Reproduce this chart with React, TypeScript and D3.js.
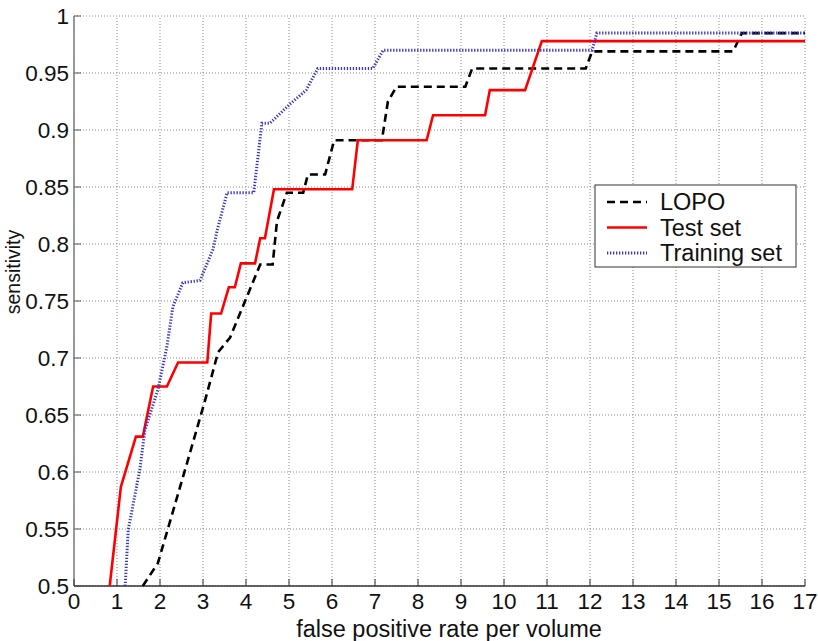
import React from 'react'
import * as d3 from 'd3'

// values
const lopoX = [1.6, 1.95, 2.63, 3.05, 3.35, 3.63, 4.33, 4.62, 4.72, 4.95, 5.33, 5.44, 5.84, 6.05, 7.16, 7.3, 7.5, 9.1, 9.26, 11.9, 12.05, 15.33, 15.53, 17]
const lopoY = [0.5, 0.52, 0.608, 0.663, 0.705, 0.718, 0.782, 0.782, 0.82, 0.845, 0.845, 0.861, 0.861, 0.891, 0.891, 0.925, 0.938, 0.938, 0.954, 0.954, 0.969, 0.969, 0.985, 0.985]

const testX = [0.83, 1.09, 1.44, 1.6, 1.84, 2.16, 2.42, 3.1, 3.19, 3.42, 3.6, 3.74, 3.88, 4.21, 4.33, 4.44, 4.65, 6.47, 6.6, 8.2, 8.35, 9.56, 9.67, 10.49, 10.88, 17]
const testY = [0.5, 0.587, 0.631, 0.631, 0.675, 0.675, 0.696, 0.696, 0.739, 0.739, 0.762, 0.762, 0.783, 0.783, 0.805, 0.805, 0.848, 0.848, 0.891, 0.891, 0.913, 0.913, 0.935, 0.935, 0.978, 0.978]

const trainX = [1.19, 1.26, 1.53, 1.65, 1.95, 2.16, 2.3, 2.53, 2.93, 3.23, 3.33, 3.56, 4.18, 4.37, 4.56, 5.0, 5.4, 5.67, 6.95, 7.19, 12.05, 12.16, 17]
const trainY = [0.5, 0.549, 0.602, 0.637, 0.672, 0.71, 0.745, 0.766, 0.768, 0.795, 0.812, 0.845, 0.845, 0.906, 0.906, 0.922, 0.935, 0.954, 0.954, 0.97, 0.97, 0.985, 0.985]

const xTicks = d3.range(0, 18)
const yTicks = [0.5, 0.55, 0.6, 0.65, 0.7, 0.75, 0.8, 0.85, 0.9, 0.95, 1]
const legendNames = ['LOPO', 'Test set', 'Training set']

const W = 818
const H = 641
const margin = {top: 16, right: 13, bottom: 55, left: 74}
const font = 'Liberation Sans, Arial, Helvetica, sans-serif'

const styles = [
  {stroke: '#000', width: 2.6, dash: '8 5'},
  {stroke: '#ff0000', width: 2.6, dash: null},
  {stroke: '#3535c8', width: 3, dash: '1.3 1.7'}
]

const toPoints = (xs: number[], ys: number[]) => xs.map((x, i) => [x, ys[i]] as [number, number])

export default function App () {
  const xScale = d3.scaleLinear().domain([0, 17]).range([margin.left, W - margin.right])
  const yScale = d3.scaleLinear().domain([0.5, 1]).range([H - margin.bottom, margin.top])
  const line = d3.line<[number, number]>()
    .x(d => xScale(d[0]))
    .y(d => yScale(d[1]))

  const series = [toPoints(lopoX, lopoY), toPoints(testX, testY), toPoints(trainX, trainY)]
  const x0 = xScale(0)
  const x1 = xScale(17)
  const y0 = yScale(0.5)
  const y1 = yScale(1)

  return (
    <svg width={W} height={H} style={{position: 'absolute', left: 0, top: 0, background: '#fff'}}
      fontFamily={font}>
      <rect x={0} y={0} width={W} height={H} fill='#fff' />
      {/* grid */}
      <g stroke='#8a8a8a' strokeWidth={1} strokeDasharray='1 2'>
        {xTicks.map(t => (
          <line key={'gx' + t} x1={xScale(t)} x2={xScale(t)} y1={y0} y2={y1} />
        ))}
        {yTicks.map(t => (
          <line key={'gy' + t} x1={x0} x2={x1} y1={yScale(t)} y2={yScale(t)} />
        ))}
      </g>
      {/* axes */}
      <line x1={x0} x2={x0} y1={y0} y2={y1} stroke='#999' strokeWidth={2} />
      <line x1={x0} x2={x1} y1={y0} y2={y0} stroke='#333' strokeWidth={1.5} />
      {xTicks.map(t => (
        <g key={'xt' + t}>
          <line x1={xScale(t)} x2={xScale(t)} y1={y0} y2={y0 - 7} stroke='#333' strokeWidth={1} />
          <text x={xScale(t)} y={y0 + 23} textAnchor='middle' fontSize={22.5} fill='#111'>{t}</text>
        </g>
      ))}
      {yTicks.map(t => (
        <g key={'yt' + t}>
          <line x1={x0} x2={x0 + 7} y1={yScale(t)} y2={yScale(t)} stroke='#555' strokeWidth={1} />
          <text x={x0 - 5} y={yScale(t)} dy='0.36em' textAnchor='end' fontSize={22.5} fill='#111'>{t}</text>
        </g>
      ))}
      <text x={449} y={637} textAnchor='middle' fontSize={23.5} fill='#111'>false positive rate per volume</text>
      <text transform={`translate(20,${272}) rotate(-90)`} textAnchor='middle' fontSize={19.5} fill='#111'>sensitivity</text>

      {/* curves */}
      {series.map((s, i) => (
        <path key={'s' + i} d={line(s) || ''} fill='none' stroke={styles[i].stroke}
          strokeWidth={styles[i].width} strokeDasharray={styles[i].dash || undefined} />
      ))}

      {/* legend */}
      <g>
        <rect x={595} y={185} width={201} height={82} fill='#fff' stroke='#333' strokeWidth={1} />
        {legendNames.map((n, i) => {
          const ly = 202 + i * 25.5
          return (
            <g key={'lg' + i}>
              <line x1={607} x2={647} y1={ly} y2={ly} stroke={styles[i].stroke}
                strokeWidth={styles[i].width} strokeDasharray={styles[i].dash || undefined} />
              <text x={660} y={ly} dy='0.36em' fontSize={23.5} fill='#111'>{n}</text>
            </g>
          )
        })}
      </g>
    </svg>
  )
}
